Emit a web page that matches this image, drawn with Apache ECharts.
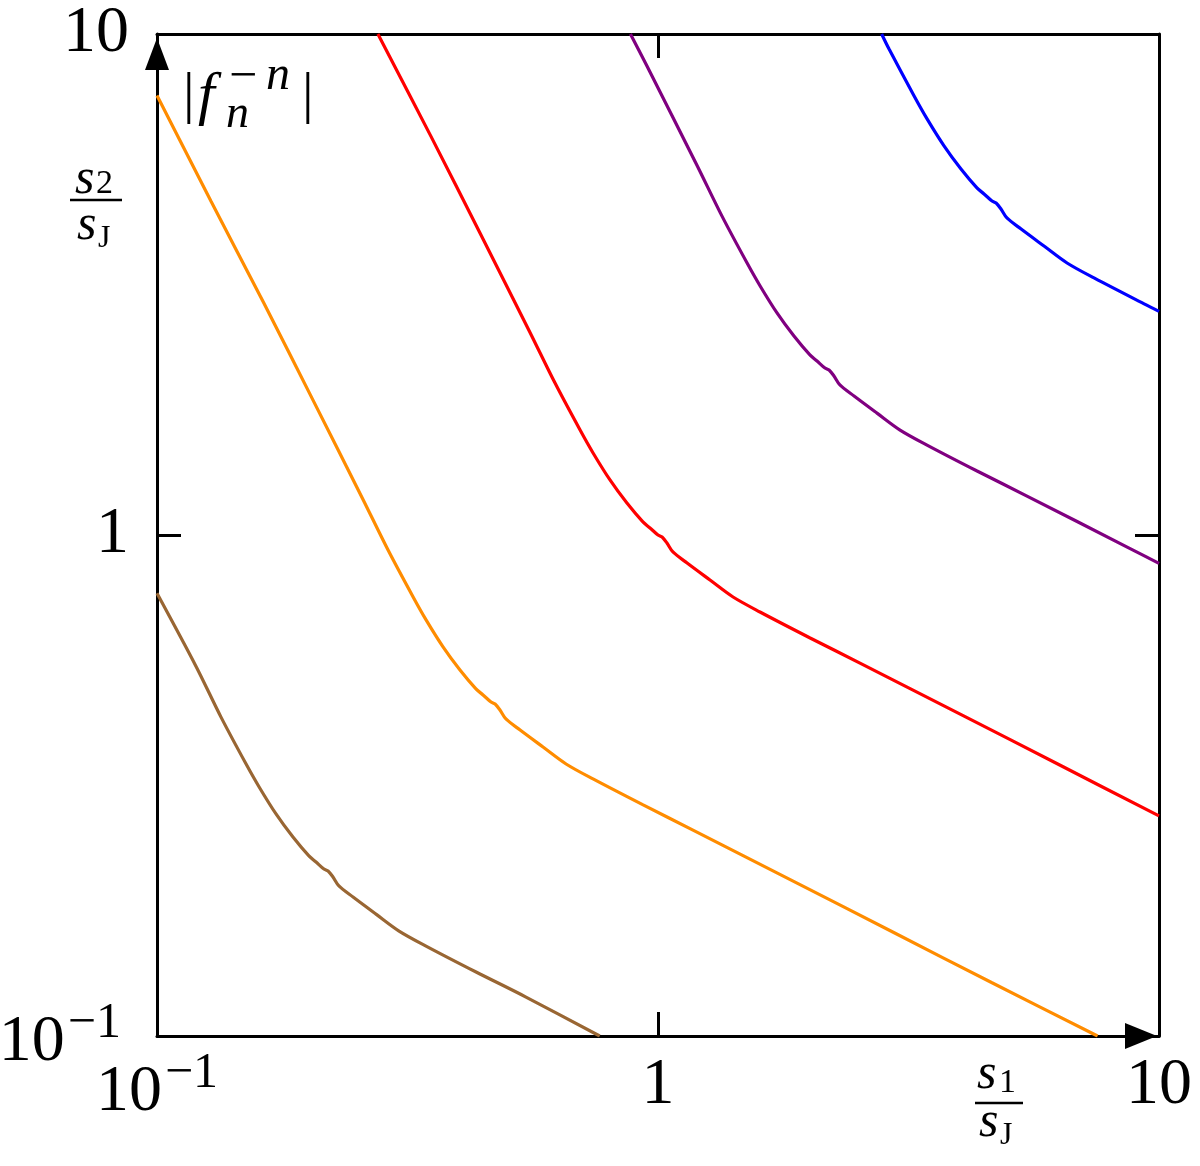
<!DOCTYPE html>
<html>
<head>
<meta charset="utf-8">
<script src="https://cdn.jsdelivr.net/npm/echarts@6/dist/echarts.min.js"></script>
<style>
  html, body { margin: 0; padding: 0; background: #fff; }
  #chart { width: 1200px; height: 1166px; }
</style>
</head>
<body>
<div id="chart"></div>
<script>
// contour lines |f_n^{-n}| in the (s1/sJ, s2/sJ) plane
const curveBrown = [
  [0.1, 0.765], [0.1196, 0.5472], [0.1342, 0.433], [0.1506, 0.349], [0.1599, 0.3141],
  [0.1728, 0.2775], [0.1868, 0.2495], [0.201, 0.2288], [0.2077, 0.2225], [0.2154, 0.2154],
  [0.2195, 0.2135], [0.2245, 0.2077], [0.2307, 0.1993], [0.2462, 0.1894], [0.2736, 0.1751],
  [0.3042, 0.162], [0.3443, 0.1512], [0.4334, 0.1342], [0.5451, 0.1196], [0.765, 0.1]
];
const curveOrange = [
  [0.1, 7.54], [0.1281, 4.642], [0.1629, 2.92], [0.2047, 1.861], [0.2576, 1.179],
  [0.2892, 0.933], [0.3245, 0.752], [0.3444, 0.6768], [0.3723, 0.5979], [0.4025, 0.5375],
  [0.4331, 0.493], [0.4475, 0.4795], [0.4642, 0.4642], [0.473, 0.46], [0.4837, 0.4475],
  [0.4971, 0.4294], [0.5306, 0.408], [0.5895, 0.3774], [0.6554, 0.3491], [0.7418, 0.3259],
  [0.934, 0.2892], [1.1744, 0.2576], [1.861, 0.2038], [2.948, 0.1611], [4.642, 0.1277],
  [7.54, 0.1]
];
const curveRed = [
  [0.276, 10], [0.351, 6.29], [0.441, 4.01], [0.555, 2.54], [0.623, 2.01],
  [0.699, 1.62], [0.742, 1.458], [0.802, 1.288], [0.867, 1.158], [0.933, 1.062],
  [0.964, 1.033], [1.0, 1.0], [1.019, 0.991], [1.042, 0.964], [1.071, 0.925],
  [1.143, 0.879], [1.27, 0.813], [1.412, 0.752], [1.598, 0.702], [2.012, 0.623],
  [2.53, 0.555], [4.01, 0.439], [6.35, 0.347], [10, 0.275]
];
const curvePurple = [
  [0.881, 10], [0.95, 8.64], [1.196, 5.472], [1.342, 4.33], [1.506, 3.49],
  [1.599, 3.141], [1.728, 2.775], [1.868, 2.495], [2.01, 2.288], [2.077, 2.225],
  [2.154, 2.154], [2.195, 2.135], [2.245, 2.077], [2.307, 1.993], [2.462, 1.894],
  [2.736, 1.751], [3.042, 1.62], [3.443, 1.512], [4.334, 1.342], [5.451, 1.196],
  [8.639, 0.946], [10, 0.878]
];
const curveBlue = [
  [2.795, 10], [2.892, 9.33], [3.245, 7.52], [3.444, 6.768], [3.723, 5.979],
  [4.025, 5.375], [4.331, 4.93], [4.475, 4.795], [4.642, 4.642], [4.73, 4.6],
  [4.837, 4.475], [4.971, 4.294], [5.306, 4.08], [5.895, 3.774], [6.554, 3.491],
  [7.418, 3.259], [9.34, 2.892], [10, 2.795]
];

const curveColors = ['#996633', '#ff8c00', '#ff0000', '#800080', '#0000ff'];
const tickValues = [0.1, 1, 10];
const tickLabels = ['{m|10}{s|\u22121}', '1', '10'];

const serif = '"Liberation Serif", "DejaVu Serif", serif';

const labelFor = (v) => {
  const e = Math.round(Math.log10(v));
  const i = tickValues.findIndex((t) => Math.round(Math.log10(t)) === e);
  return i < 0 ? '' : tickLabels[i];
};

const richLabel = (padRight) => ({
  m: { fontSize: 66, lineHeight: 66, fontFamily: serif, color: '#000', padding: [14, 0, 0, 0], verticalAlign: 'middle' },
  s: { fontSize: 50, lineHeight: 50, fontFamily: serif, color: '#000', padding: [0, padRight, 24, 3], verticalAlign: 'middle' },
});

const chartDom = document.getElementById('chart');
const chart = echarts.init(chartDom, null, { renderer: 'canvas' });

const baseAxis = {
  type: 'log',
  logBase: 10,
  min: 0.1,
  max: 10,
  splitLine: { show: false },
  minorTick: { show: false },
};
const frameTick = { show: true, inside: true, length: 24, lineStyle: { color: '#000', width: 3 } };

const option = {
  animation: false,
  backgroundColor: '#fff',
  grid: {
    left: 157,
    top: 34,
    right: 41,
    bottom: 130,
    outerBoundsMode: 'none',
    containLabel: false,
  },
  xAxis: [
    {
      ...baseAxis,
      position: 'bottom',
      axisLine: {
        show: true,
        lineStyle: { color: '#000', width: 3 },
        symbol: ['none', 'triangle'],
        symbolSize: [26, 32],
        symbolOffset: [0, -18],
      },
      axisTick: frameTick,
      axisLabel: {
        show: true,
        margin: 17,
        fontSize: 66,
        lineHeight: 66,
        fontFamily: serif,
        color: '#000',
        showMinLabel: true,
        showMaxLabel: true,
        formatter: labelFor,
        rich: richLabel(0),
      },
    },
    {
      ...baseAxis,
      position: 'top',
      axisLine: { show: true, lineStyle: { color: '#000', width: 3 } },
      axisTick: frameTick,
      axisLabel: { show: false },
    },
  ],
  yAxis: [
    {
      ...baseAxis,
      position: 'left',
      axisLine: {
        show: true,
        lineStyle: { color: '#000', width: 3 },
        symbol: ['none', 'triangle'],
        symbolSize: [24, 32],
        symbolOffset: [0, -20],
      },
      axisTick: frameTick,
      axisLabel: {
        show: true,
        margin: 28,
        fontSize: 66,
        lineHeight: 66,
        fontFamily: serif,
        color: '#000',
        showMinLabel: true,
        showMaxLabel: true,
        formatter: labelFor,
        rich: richLabel(8),
      },
    },
    {
      ...baseAxis,
      position: 'right',
      axisLine: { show: true, lineStyle: { color: '#000', width: 3 } },
      axisTick: frameTick,
      axisLabel: { show: false },
    },
  ],
  series: [curveBrown, curveOrange, curveRed, curvePurple, curveBlue].map((d, i) => ({
    type: 'line',
    xAxisIndex: 0,
    yAxisIndex: 0,
    data: d,
    symbol: 'none',
    smooth: 0.3,
    clip: true,
    lineStyle: { color: curveColors[i], width: 3.2 },
    z: 1,
  })),
  graphic: [
    // |f_n^{-n}|
    { type: 'text', x: 183, y: 97, style: { text: '|', font: '58px ' + serif, fill: '#000', verticalAlign: 'middle' } },
    { type: 'text', x: 198, y: 97, style: { text: 'f', font: 'italic 60px ' + serif, fill: '#000', verticalAlign: 'middle' } },
    { type: 'text', x: 226, y: 115, style: { text: 'n', font: 'italic 46px ' + serif, fill: '#000', verticalAlign: 'middle' } },
    { type: 'text', x: 229, y: 78, style: { text: '\u2212', font: '50px ' + serif, fill: '#000', verticalAlign: 'middle' } },
    { type: 'text', x: 266, y: 76, style: { text: 'n', font: 'italic 48px ' + serif, fill: '#000', verticalAlign: 'middle' } },
    { type: 'text', x: 302, y: 97, style: { text: '|', font: '58px ' + serif, fill: '#000', verticalAlign: 'middle' } },
    // s2 / sJ
    { type: 'text', x: 75, y: 180, style: { text: 's', font: 'italic 50px ' + serif, fill: '#000', verticalAlign: 'middle' } },
    { type: 'text', x: 96, y: 184, style: { text: '2', font: '34px ' + serif, fill: '#000', verticalAlign: 'middle' } },
    { type: 'line', shape: { x1: 70, y1: 200, x2: 122, y2: 200 }, style: { stroke: '#000', lineWidth: 2.5 } },
    { type: 'text', x: 77, y: 226, style: { text: 's', font: 'italic 50px ' + serif, fill: '#000', verticalAlign: 'middle' } },
    { type: 'text', x: 98, y: 239, style: { text: 'J', font: '32px ' + serif, fill: '#000', verticalAlign: 'middle' } },
    // s1 / sJ
    { type: 'text', x: 977, y: 1075, style: { text: 's', font: 'italic 50px ' + serif, fill: '#000', verticalAlign: 'middle' } },
    { type: 'text', x: 999, y: 1083, style: { text: '1', font: '34px ' + serif, fill: '#000', verticalAlign: 'middle' } },
    { type: 'line', shape: { x1: 975, y1: 1103, x2: 1023, y2: 1103 }, style: { stroke: '#000', lineWidth: 2.5 } },
    { type: 'text', x: 979, y: 1123, style: { text: 's', font: 'italic 50px ' + serif, fill: '#000', verticalAlign: 'middle' } },
    { type: 'text', x: 1000, y: 1136, style: { text: 'J', font: '32px ' + serif, fill: '#000', verticalAlign: 'middle' } },
  ],
};

chart.setOption(option);
</script>
</body>
</html>
